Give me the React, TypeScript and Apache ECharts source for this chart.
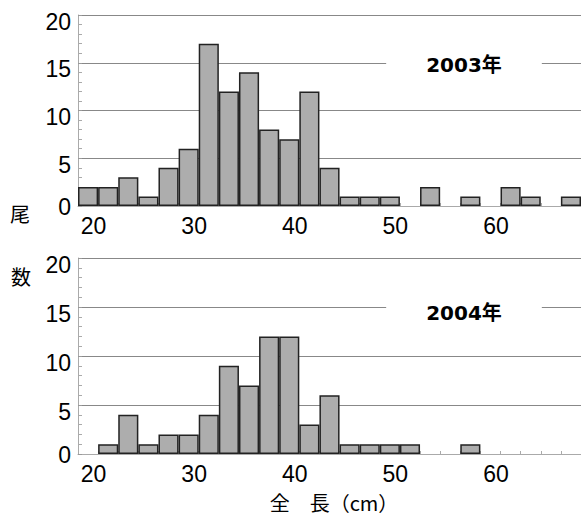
import React, { useEffect, useRef } from 'react';
import * as echarts from 'echarts';

// bin centres (cm), 2 cm wide bins
const categories = ['20', '22', '24', '26', '28', '30', '32', '34', '36', '38', '40', '42', '44', '46', '48', '50', '52', '54', '56', '58', '60', '62', '64', '66', '68'];
const counts2003 = [2, 2, 3, 1, 4, 6, 17, 12, 14, 8, 7, 12, 4, 1, 1, 1, 0, 2, 0, 1, 0, 2, 1, 0, 1];
const counts2004 = [0, 1, 4, 1, 2, 2, 4, 9, 7, 12, 12, 3, 6, 1, 1, 1, 1, 0, 0, 1, 0, 0, 0, 0, 0];
const xTickLabels = ['20', '30', '40', '50', '60'];
const yTickLabels = [0, 5, 10, 15, 20];
const yearLabels = ['2003年', '2004年'];
const yAxisTitle = ['尾', '数'];
const xAxisTitle = '全　長（cm）';

export default function App() {
  const ref = useRef<HTMLDivElement>(null);

  useEffect(() => {
    document.body.style.margin = '0';
    const chart = echarts.init(ref.current as HTMLDivElement, null, { renderer: 'svg' });
    const numFont = 'Arial, "Liberation Sans", Helvetica, sans-serif';
    const grids = [
      { left: 78, top: 15, width: 503, height: 191 },
      { left: 78, top: 258, width: 503, height: 196 },
    ];
    const seriesData = [counts2003, counts2004];
    const yearY = [65, 313];

    const option: any = {
      animation: false,
      backgroundColor: '#fff',
      grid: grids,
      xAxis: grids.map((_, i) => ({
        type: 'category',
        gridIndex: i,
        data: categories,
        boundaryGap: true,
        axisLine: { show: true, lineStyle: { color: '#aaa', width: 1 } },
        axisTick: { show: true, inside: true, length: 3, interval: 0, lineStyle: { color: '#aaa' } },
        axisLabel: {
          interval: (_idx: number, val: string) => xTickLabels.includes(val),
          margin: 8,
          color: '#000',
          fontSize: 23,
          fontFamily: numFont,
          padding: [0, 0, 0, 11],
        },
        splitLine: { show: false },
      })),
      yAxis: grids.map((_, i) => ({
        type: 'value',
        gridIndex: i,
        min: yTickLabels[0],
        max: yTickLabels[yTickLabels.length - 1],
        interval: 5,
        axisLine: { show: true, lineStyle: { color: '#aaa', width: 1 } },
        axisTick: { show: true, inside: true, length: 4, lineStyle: { color: '#999' } },
        minorTick: { show: true, splitNumber: 5, length: 4, lineStyle: { color: '#aaa' } },
        splitLine: { show: true, lineStyle: { color: '#888', width: 1 } },
        axisLabel: {
          margin: 7,
          color: '#000',
          fontSize: 23,
          fontFamily: numFont,
          formatter: (v: number) => (v === 0 ? `{z|0}` : `{n|${v}}`),
          rich: {
            z: { fontSize: 23, fontFamily: numFont, color: '#000', padding: [2, 0, 0, 0] },
            n: { fontSize: 23, fontFamily: numFont, color: '#000', padding: [13, 0, 0, 0] },
          },
        },
      })),
      series: seriesData.map((d, i) => ({
        type: 'bar',
        xAxisIndex: i,
        yAxisIndex: i,
        barWidth: '100%',
        data: d.map((v) => (v === 0 ? null : v)),
        itemStyle: { color: '#adadad', borderColor: '#222', borderWidth: 1.5 },
      })),
      graphic: [
        ...yearLabels.map((t, i) => ({
          type: 'text',
          z: 100,
          x: 464,
          y: yearY[i],
          style: {
            text: t,
            font: 'bold 20px "DejaVu Sans", "Noto Sans CJK JP", sans-serif',
            fill: '#000',
            align: 'center',
            verticalAlign: 'middle',
            backgroundColor: '#fff',
            padding: [4, 40],
          },
        })),
        {
          type: 'text', z: 100, x: 20, y: 213,
          style: { text: yAxisTitle[0], font: '20px "Noto Sans CJK JP", sans-serif', fill: '#000', align: 'center', verticalAlign: 'middle' },
        },
        {
          type: 'text', z: 100, x: 21, y: 276,
          style: { text: yAxisTitle[1], font: '20px "Noto Sans CJK JP", sans-serif', fill: '#000', align: 'center', verticalAlign: 'middle' },
        },
        {
          type: 'text', z: 100, x: 334, y: 502,
          style: { text: xAxisTitle, font: '20px "Noto Sans CJK JP", sans-serif', fill: '#000', align: 'center', verticalAlign: 'middle' },
        },
      ],
    };
    chart.setOption(option);
    return () => chart.dispose();
  }, []);

  return <div ref={ref} style={{ position: 'absolute', left: 0, top: 0, width: 581, height: 515 }} />;
}
